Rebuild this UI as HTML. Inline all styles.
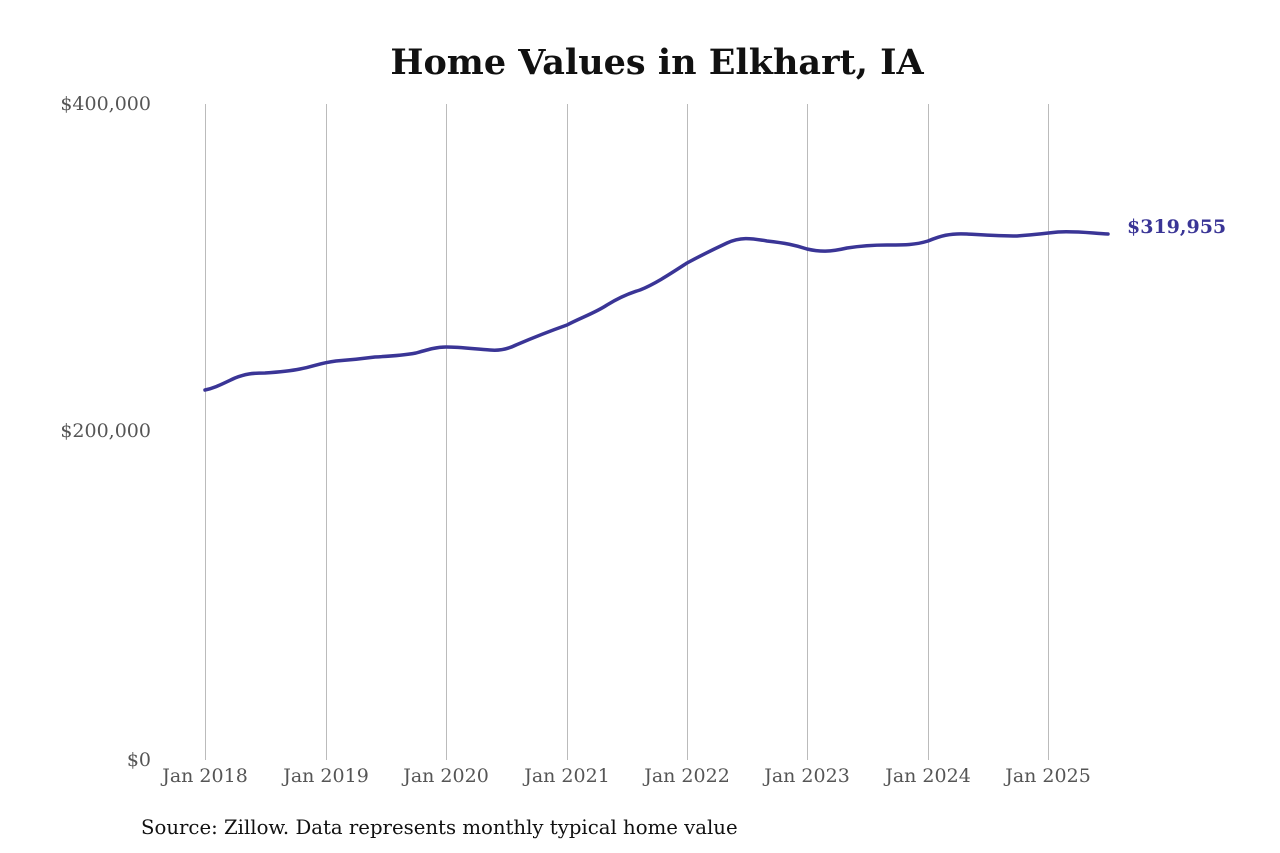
<!DOCTYPE html>
<html><head><meta charset="utf-8"><style>
body{margin:0;background:#fff;}
svg{display:block;}
</style></head><body>
<svg width="1280" height="853" xmlns="http://www.w3.org/2000/svg" font-family="'DejaVu Serif','Liberation Serif',serif">
<rect width="1280" height="853" fill="#fff"/>
<text x="657" y="74" text-anchor="middle" font-size="35" font-weight="bold" fill="#111">Home Values in Elkhart, IA</text>
<g stroke="#bbb" stroke-width="1">
<line x1="205.5" y1="104" x2="205.5" y2="760"/>
<line x1="326.5" y1="104" x2="326.5" y2="760"/>
<line x1="446.5" y1="104" x2="446.5" y2="760"/>
<line x1="567.5" y1="104" x2="567.5" y2="760"/>
<line x1="687.5" y1="104" x2="687.5" y2="760"/>
<line x1="807.5" y1="104" x2="807.5" y2="760"/>
<line x1="928.5" y1="104" x2="928.5" y2="760"/>
<line x1="1048.5" y1="104" x2="1048.5" y2="760"/>
</g>
<g font-size="19" fill="#555" text-anchor="end">
<text x="151" y="110">$400,000</text>
<text x="151" y="437">$200,000</text>
<text x="151" y="766">$0</text>
</g>
<g font-size="19" fill="#555" text-anchor="middle">
<text x="205" y="782">Jan 2018</text>
<text x="326" y="782">Jan 2019</text>
<text x="446" y="782">Jan 2020</text>
<text x="567" y="782">Jan 2021</text>
<text x="687" y="782">Jan 2022</text>
<text x="807" y="782">Jan 2023</text>
<text x="928" y="782">Jan 2024</text>
<text x="1048" y="782">Jan 2025</text>
</g>
<path fill="none" stroke="#3a3596" stroke-width="3.5" stroke-linejoin="round" stroke-linecap="round"
d="M205,390 C215,388 222,384 235,378 C245,374 252,373 265,373 C280,372 290,371 300,369 C315,366 320,363 336,361 C350,360 360,359 375,357 C395,356 405,355 416,353 C430,349 437,347 446,347 C460,347 475,349 490,350 C500,351 508,349 516,345 C530,339 550,331 567,325 C580,318 595,313 607,305 C620,297 630,293 640,290 C655,284 670,274 687,263 C700,256 712,250 727,243 C740,237 750,238 767,241 C785,243 795,245 807,249 C820,252 830,252 847,248 C860,246 870,245 887,245 C905,245 915,245 928,241 C940,236 950,233 967,234 C985,235 1000,236 1017,236 C1030,235 1040,234 1058,232 C1075,231 1090,233 1108,234"/>
<text x="1127" y="233" font-size="19" font-weight="bold" fill="#3a3596">$319,955</text>
<text x="141" y="834" font-size="19.7" fill="#111">Source: Zillow. Data represents monthly typical home value</text>
</svg>
</body></html>
